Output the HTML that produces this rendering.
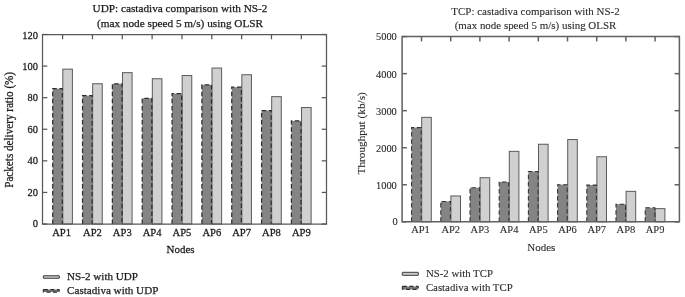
<!DOCTYPE html>
<html><head><meta charset="utf-8"><style>
html,body{margin:0;padding:0;background:#fff;}
svg{display:block;will-change:transform;}
text{font-family:"Liberation Serif",serif;}
.u text{fill:#1c1c1c;stroke:#1c1c1c;stroke-width:0.25px;}
.t text{fill:#2e2e2e;stroke:#2e2e2e;stroke-width:0.12px;}
</style></head><body>
<svg width="685" height="297" viewBox="0 0 685 297">
<rect width="685" height="297" fill="#fff"/>
<g class="u">
<rect x="62.80" y="69.15" width="9.60" height="154.85" fill="#d0d0d0" stroke="#5a5a5a" stroke-width="1"/>
<rect x="52.70" y="88.70" width="10.10" height="135.30" fill="#848484"/>
<path d="M52.70,224.00 V88.70 H62.30 V224.00" fill="none" stroke="#2e2e2e" stroke-width="1.25" stroke-dasharray="4.5 2.6"/>
<rect x="92.64" y="83.75" width="9.60" height="140.25" fill="#d0d0d0" stroke="#5a5a5a" stroke-width="1"/>
<rect x="82.54" y="95.70" width="10.10" height="128.30" fill="#848484"/>
<path d="M82.54,224.00 V95.70 H92.14 V224.00" fill="none" stroke="#2e2e2e" stroke-width="1.25" stroke-dasharray="4.5 2.6"/>
<rect x="122.48" y="72.65" width="9.60" height="151.35" fill="#d0d0d0" stroke="#5a5a5a" stroke-width="1"/>
<rect x="112.38" y="83.80" width="10.10" height="140.20" fill="#848484"/>
<path d="M112.38,224.00 V83.80 H121.98 V224.00" fill="none" stroke="#2e2e2e" stroke-width="1.25" stroke-dasharray="4.5 2.6"/>
<rect x="152.32" y="78.75" width="9.60" height="145.25" fill="#d0d0d0" stroke="#5a5a5a" stroke-width="1"/>
<rect x="142.22" y="98.30" width="10.10" height="125.70" fill="#848484"/>
<path d="M142.22,224.00 V98.30 H151.82 V224.00" fill="none" stroke="#2e2e2e" stroke-width="1.25" stroke-dasharray="4.5 2.6"/>
<rect x="182.16" y="75.55" width="9.60" height="148.45" fill="#d0d0d0" stroke="#5a5a5a" stroke-width="1"/>
<rect x="172.06" y="93.60" width="10.10" height="130.40" fill="#848484"/>
<path d="M172.06,224.00 V93.60 H181.66 V224.00" fill="none" stroke="#2e2e2e" stroke-width="1.25" stroke-dasharray="4.5 2.6"/>
<rect x="212.00" y="68.05" width="9.60" height="155.95" fill="#d0d0d0" stroke="#5a5a5a" stroke-width="1"/>
<rect x="201.90" y="84.80" width="10.10" height="139.20" fill="#848484"/>
<path d="M201.90,224.00 V84.80 H211.50 V224.00" fill="none" stroke="#2e2e2e" stroke-width="1.25" stroke-dasharray="4.5 2.6"/>
<rect x="241.84" y="74.75" width="9.60" height="149.25" fill="#d0d0d0" stroke="#5a5a5a" stroke-width="1"/>
<rect x="231.74" y="87.20" width="10.10" height="136.80" fill="#848484"/>
<path d="M231.74,224.00 V87.20 H241.34 V224.00" fill="none" stroke="#2e2e2e" stroke-width="1.25" stroke-dasharray="4.5 2.6"/>
<rect x="271.68" y="96.65" width="9.60" height="127.35" fill="#d0d0d0" stroke="#5a5a5a" stroke-width="1"/>
<rect x="261.58" y="110.50" width="10.10" height="113.50" fill="#848484"/>
<path d="M261.58,224.00 V110.50 H271.18 V224.00" fill="none" stroke="#2e2e2e" stroke-width="1.25" stroke-dasharray="4.5 2.6"/>
<rect x="301.52" y="107.55" width="9.60" height="116.45" fill="#d0d0d0" stroke="#5a5a5a" stroke-width="1"/>
<rect x="291.42" y="120.90" width="10.10" height="103.10" fill="#848484"/>
<path d="M291.42,224.00 V120.90 H301.02 V224.00" fill="none" stroke="#2e2e2e" stroke-width="1.25" stroke-dasharray="4.5 2.6"/>
<path d="M42.5,224.0 L42.5,34.5 L326.5,34.5 L326.5,224.0 Z" fill="none" stroke="#585858" stroke-width="1.25"/>
<line x1="42.5" y1="224.00" x2="47.3" y2="224.00" stroke="#585858" stroke-width="1.25"/>
<line x1="326.5" y1="224.00" x2="321.7" y2="224.00" stroke="#585858" stroke-width="1.25"/>
<text transform="translate(37.90,226.90) scale(1.0,1.06)" text-anchor="end" font-size="10.5">0</text>
<line x1="42.5" y1="192.42" x2="47.3" y2="192.42" stroke="#585858" stroke-width="1.25"/>
<line x1="326.5" y1="192.42" x2="321.7" y2="192.42" stroke="#585858" stroke-width="1.25"/>
<text transform="translate(37.90,196.02) scale(1.0,1.06)" text-anchor="end" font-size="10.5">20</text>
<line x1="42.5" y1="160.83" x2="47.3" y2="160.83" stroke="#585858" stroke-width="1.25"/>
<line x1="326.5" y1="160.83" x2="321.7" y2="160.83" stroke="#585858" stroke-width="1.25"/>
<text transform="translate(37.90,164.43) scale(1.0,1.06)" text-anchor="end" font-size="10.5">40</text>
<line x1="42.5" y1="129.25" x2="47.3" y2="129.25" stroke="#585858" stroke-width="1.25"/>
<line x1="326.5" y1="129.25" x2="321.7" y2="129.25" stroke="#585858" stroke-width="1.25"/>
<text transform="translate(37.90,132.85) scale(1.0,1.06)" text-anchor="end" font-size="10.5">60</text>
<line x1="42.5" y1="97.67" x2="47.3" y2="97.67" stroke="#585858" stroke-width="1.25"/>
<line x1="326.5" y1="97.67" x2="321.7" y2="97.67" stroke="#585858" stroke-width="1.25"/>
<text transform="translate(37.90,101.27) scale(1.0,1.06)" text-anchor="end" font-size="10.5">80</text>
<line x1="42.5" y1="66.08" x2="47.3" y2="66.08" stroke="#585858" stroke-width="1.25"/>
<line x1="326.5" y1="66.08" x2="321.7" y2="66.08" stroke="#585858" stroke-width="1.25"/>
<text transform="translate(37.90,69.68) scale(1.0,1.06)" text-anchor="end" font-size="10.5">100</text>
<line x1="42.5" y1="34.50" x2="47.3" y2="34.50" stroke="#585858" stroke-width="1.25"/>
<line x1="326.5" y1="34.50" x2="321.7" y2="34.50" stroke="#585858" stroke-width="1.25"/>
<text transform="translate(37.90,39.10) scale(1.0,1.06)" text-anchor="end" font-size="10.5">120</text>
<line x1="62.60" y1="34.5" x2="62.60" y2="39.3" stroke="#585858" stroke-width="1.25"/>
<text transform="translate(61.60,235.50) scale(1.0,1.06)" text-anchor="middle" font-size="10.6">AP1</text>
<line x1="92.44" y1="34.5" x2="92.44" y2="39.3" stroke="#585858" stroke-width="1.25"/>
<text transform="translate(92.44,235.50) scale(1.0,1.06)" text-anchor="middle" font-size="10.6">AP2</text>
<line x1="122.28" y1="34.5" x2="122.28" y2="39.3" stroke="#585858" stroke-width="1.25"/>
<text transform="translate(122.28,235.50) scale(1.0,1.06)" text-anchor="middle" font-size="10.6">AP3</text>
<line x1="152.12" y1="34.5" x2="152.12" y2="39.3" stroke="#585858" stroke-width="1.25"/>
<text transform="translate(152.12,235.50) scale(1.0,1.06)" text-anchor="middle" font-size="10.6">AP4</text>
<line x1="181.96" y1="34.5" x2="181.96" y2="39.3" stroke="#585858" stroke-width="1.25"/>
<text transform="translate(181.96,235.50) scale(1.0,1.06)" text-anchor="middle" font-size="10.6">AP5</text>
<line x1="211.80" y1="34.5" x2="211.80" y2="39.3" stroke="#585858" stroke-width="1.25"/>
<text transform="translate(211.80,235.50) scale(1.0,1.06)" text-anchor="middle" font-size="10.6">AP6</text>
<line x1="241.64" y1="34.5" x2="241.64" y2="39.3" stroke="#585858" stroke-width="1.25"/>
<text transform="translate(241.64,235.50) scale(1.0,1.06)" text-anchor="middle" font-size="10.6">AP7</text>
<line x1="271.48" y1="34.5" x2="271.48" y2="39.3" stroke="#585858" stroke-width="1.25"/>
<text transform="translate(271.48,235.50) scale(1.0,1.06)" text-anchor="middle" font-size="10.6">AP8</text>
<line x1="301.32" y1="34.5" x2="301.32" y2="39.3" stroke="#585858" stroke-width="1.25"/>
<text transform="translate(301.32,235.50) scale(1.0,1.06)" text-anchor="middle" font-size="10.6">AP9</text>
<text transform="translate(180.00,12.10)" text-anchor="middle" font-size="11.25">UDP: castadiva comparison with NS-2</text>
<text transform="translate(180.00,26.90)" text-anchor="middle" font-size="11.25">(max node speed 5 m/s) using OLSR</text>
<text transform="translate(13.30,129.85) rotate(-90) scale(1.0,1.05)" text-anchor="middle" font-size="11.13">Packets delivery ratio (%)</text>
<text transform="translate(180.60,253.30) scale(1.0,1.03)" text-anchor="middle" font-size="11.0">Nodes</text>
<rect x="43.3" y="275.75" width="16.0" height="2.5" rx="0.2" fill="#cccccc" stroke="#3a3a3a" stroke-width="1"/>
<rect x="43.3" y="289.6" width="16.0" height="2.5" rx="0.6" fill="#777" stroke="#2e2e2e" stroke-width="1.1" stroke-dasharray="4 2.5"/>
<text transform="translate(67.10,280.10)" text-anchor="start" font-size="11.1">NS-2 with UDP</text>
<text transform="translate(67.10,294.30)" text-anchor="start" font-size="11.1">Castadiva with UDP</text>
</g>
<g class="t">
<rect x="421.70" y="117.35" width="9.60" height="104.45" fill="#d0d0d0" stroke="#5a5a5a" stroke-width="1"/>
<rect x="411.60" y="127.60" width="10.10" height="94.20" fill="#848484"/>
<path d="M411.60,221.80 V127.60 H421.20 V221.80" fill="none" stroke="#353535" stroke-width="1.1" stroke-dasharray="4.5 2.6"/>
<rect x="450.90" y="195.95" width="9.60" height="25.85" fill="#d0d0d0" stroke="#5a5a5a" stroke-width="1"/>
<rect x="440.80" y="201.50" width="10.10" height="20.30" fill="#848484"/>
<path d="M440.80,221.80 V201.50 H450.40 V221.80" fill="none" stroke="#353535" stroke-width="1.1" stroke-dasharray="4.5 2.6"/>
<rect x="480.10" y="177.75" width="9.60" height="44.05" fill="#d0d0d0" stroke="#5a5a5a" stroke-width="1"/>
<rect x="470.00" y="187.80" width="10.10" height="34.00" fill="#848484"/>
<path d="M470.00,221.80 V187.80 H479.60 V221.80" fill="none" stroke="#353535" stroke-width="1.1" stroke-dasharray="4.5 2.6"/>
<rect x="509.30" y="151.35" width="9.60" height="70.45" fill="#d0d0d0" stroke="#5a5a5a" stroke-width="1"/>
<rect x="499.20" y="182.00" width="10.10" height="39.80" fill="#848484"/>
<path d="M499.20,221.80 V182.00 H508.80 V221.80" fill="none" stroke="#353535" stroke-width="1.1" stroke-dasharray="4.5 2.6"/>
<rect x="538.50" y="144.25" width="9.60" height="77.55" fill="#d0d0d0" stroke="#5a5a5a" stroke-width="1"/>
<rect x="528.40" y="171.50" width="10.10" height="50.30" fill="#848484"/>
<path d="M528.40,221.80 V171.50 H538.00 V221.80" fill="none" stroke="#353535" stroke-width="1.1" stroke-dasharray="4.5 2.6"/>
<rect x="567.70" y="139.55" width="9.60" height="82.25" fill="#d0d0d0" stroke="#5a5a5a" stroke-width="1"/>
<rect x="557.60" y="184.70" width="10.10" height="37.10" fill="#848484"/>
<path d="M557.60,221.80 V184.70 H567.20 V221.80" fill="none" stroke="#353535" stroke-width="1.1" stroke-dasharray="4.5 2.6"/>
<rect x="596.90" y="156.75" width="9.60" height="65.05" fill="#d0d0d0" stroke="#5a5a5a" stroke-width="1"/>
<rect x="586.80" y="185.10" width="10.10" height="36.70" fill="#848484"/>
<path d="M586.80,221.80 V185.10 H596.40 V221.80" fill="none" stroke="#353535" stroke-width="1.1" stroke-dasharray="4.5 2.6"/>
<rect x="626.10" y="191.35" width="9.60" height="30.45" fill="#d0d0d0" stroke="#5a5a5a" stroke-width="1"/>
<rect x="616.00" y="204.20" width="10.10" height="17.60" fill="#848484"/>
<path d="M616.00,221.80 V204.20 H625.60 V221.80" fill="none" stroke="#353535" stroke-width="1.1" stroke-dasharray="4.5 2.6"/>
<rect x="655.30" y="208.65" width="9.60" height="13.15" fill="#d0d0d0" stroke="#5a5a5a" stroke-width="1"/>
<rect x="645.20" y="207.80" width="10.10" height="14.00" fill="#848484"/>
<path d="M645.20,221.80 V207.80 H654.80 V221.80" fill="none" stroke="#353535" stroke-width="1.1" stroke-dasharray="4.5 2.6"/>
<path d="M402.1,221.8 L402.1,36.6 L679.4,36.6 L679.4,221.8 Z" fill="none" stroke="#606060" stroke-width="1.5"/>
<line x1="402.1" y1="221.80" x2="406.90000000000003" y2="221.80" stroke="#606060" stroke-width="1.5"/>
<line x1="679.4" y1="221.80" x2="674.6" y2="221.80" stroke="#606060" stroke-width="1.5"/>
<text transform="translate(397.60,225.00) scale(1.0,1.08)" text-anchor="end" font-size="10.4">0</text>
<line x1="402.1" y1="184.76" x2="406.90000000000003" y2="184.76" stroke="#606060" stroke-width="1.5"/>
<line x1="679.4" y1="184.76" x2="674.6" y2="184.76" stroke="#606060" stroke-width="1.5"/>
<text transform="translate(396.80,188.66) scale(1.0,1.08)" text-anchor="end" font-size="10.4">1000</text>
<line x1="402.1" y1="147.72" x2="406.90000000000003" y2="147.72" stroke="#606060" stroke-width="1.5"/>
<line x1="679.4" y1="147.72" x2="674.6" y2="147.72" stroke="#606060" stroke-width="1.5"/>
<text transform="translate(396.80,151.62) scale(1.0,1.08)" text-anchor="end" font-size="10.4">2000</text>
<line x1="402.1" y1="110.68" x2="406.90000000000003" y2="110.68" stroke="#606060" stroke-width="1.5"/>
<line x1="679.4" y1="110.68" x2="674.6" y2="110.68" stroke="#606060" stroke-width="1.5"/>
<text transform="translate(396.80,114.58) scale(1.0,1.08)" text-anchor="end" font-size="10.4">3000</text>
<line x1="402.1" y1="73.64" x2="406.90000000000003" y2="73.64" stroke="#606060" stroke-width="1.5"/>
<line x1="679.4" y1="73.64" x2="674.6" y2="73.64" stroke="#606060" stroke-width="1.5"/>
<text transform="translate(396.80,77.54) scale(1.0,1.08)" text-anchor="end" font-size="10.4">4000</text>
<line x1="402.1" y1="36.60" x2="406.90000000000003" y2="36.60" stroke="#606060" stroke-width="1.5"/>
<line x1="679.4" y1="36.60" x2="674.6" y2="36.60" stroke="#606060" stroke-width="1.5"/>
<text transform="translate(396.80,39.90) scale(1.0,1.08)" text-anchor="end" font-size="10.4">5000</text>
<line x1="421.50" y1="36.6" x2="421.50" y2="41.4" stroke="#606060" stroke-width="1.5"/>
<text transform="translate(420.50,233.10) scale(1.0,1.06)" text-anchor="middle" font-size="10.5">AP1</text>
<line x1="450.70" y1="36.6" x2="450.70" y2="41.4" stroke="#606060" stroke-width="1.5"/>
<text transform="translate(450.70,233.10) scale(1.0,1.06)" text-anchor="middle" font-size="10.5">AP2</text>
<line x1="479.90" y1="36.6" x2="479.90" y2="41.4" stroke="#606060" stroke-width="1.5"/>
<text transform="translate(479.90,233.10) scale(1.0,1.06)" text-anchor="middle" font-size="10.5">AP3</text>
<line x1="509.10" y1="36.6" x2="509.10" y2="41.4" stroke="#606060" stroke-width="1.5"/>
<text transform="translate(509.10,233.10) scale(1.0,1.06)" text-anchor="middle" font-size="10.5">AP4</text>
<line x1="538.30" y1="36.6" x2="538.30" y2="41.4" stroke="#606060" stroke-width="1.5"/>
<text transform="translate(538.30,233.10) scale(1.0,1.06)" text-anchor="middle" font-size="10.5">AP5</text>
<line x1="567.50" y1="36.6" x2="567.50" y2="41.4" stroke="#606060" stroke-width="1.5"/>
<text transform="translate(567.50,233.10) scale(1.0,1.06)" text-anchor="middle" font-size="10.5">AP6</text>
<line x1="596.70" y1="36.6" x2="596.70" y2="41.4" stroke="#606060" stroke-width="1.5"/>
<text transform="translate(596.70,233.10) scale(1.0,1.06)" text-anchor="middle" font-size="10.5">AP7</text>
<line x1="625.90" y1="36.6" x2="625.90" y2="41.4" stroke="#606060" stroke-width="1.5"/>
<text transform="translate(625.90,233.10) scale(1.0,1.06)" text-anchor="middle" font-size="10.5">AP8</text>
<line x1="655.10" y1="36.6" x2="655.10" y2="41.4" stroke="#606060" stroke-width="1.5"/>
<text transform="translate(655.10,233.10) scale(1.0,1.06)" text-anchor="middle" font-size="10.5">AP9</text>
<text transform="translate(535.50,14.60)" text-anchor="middle" font-size="10.95">TCP: castadiva comparison with NS-2</text>
<text transform="translate(535.50,28.60)" text-anchor="middle" font-size="10.95">(max node speed 5 m/s) using OLSR</text>
<text transform="translate(365.30,133.30) rotate(-90)" text-anchor="middle" font-size="11.25">Throughput (kb/s)</text>
<text transform="translate(541.30,250.70) scale(1.0,1.03)" text-anchor="middle" font-size="11.0">Nodes</text>
<rect x="402.3" y="272.3" width="16.0" height="3.0" rx="0.2" fill="#cccccc" stroke="#3a3a3a" stroke-width="1"/>
<rect x="402.3" y="286.4" width="16.0" height="3.0" rx="0.6" fill="#777" stroke="#2e2e2e" stroke-width="1.1" stroke-dasharray="4 2.5"/>
<text transform="translate(425.90,276.80)" text-anchor="start" font-size="10.8">NS-2 with TCP</text>
<text transform="translate(425.90,290.50)" text-anchor="start" font-size="10.8">Castadiva with TCP</text>
</g>
</svg>
</body></html>
